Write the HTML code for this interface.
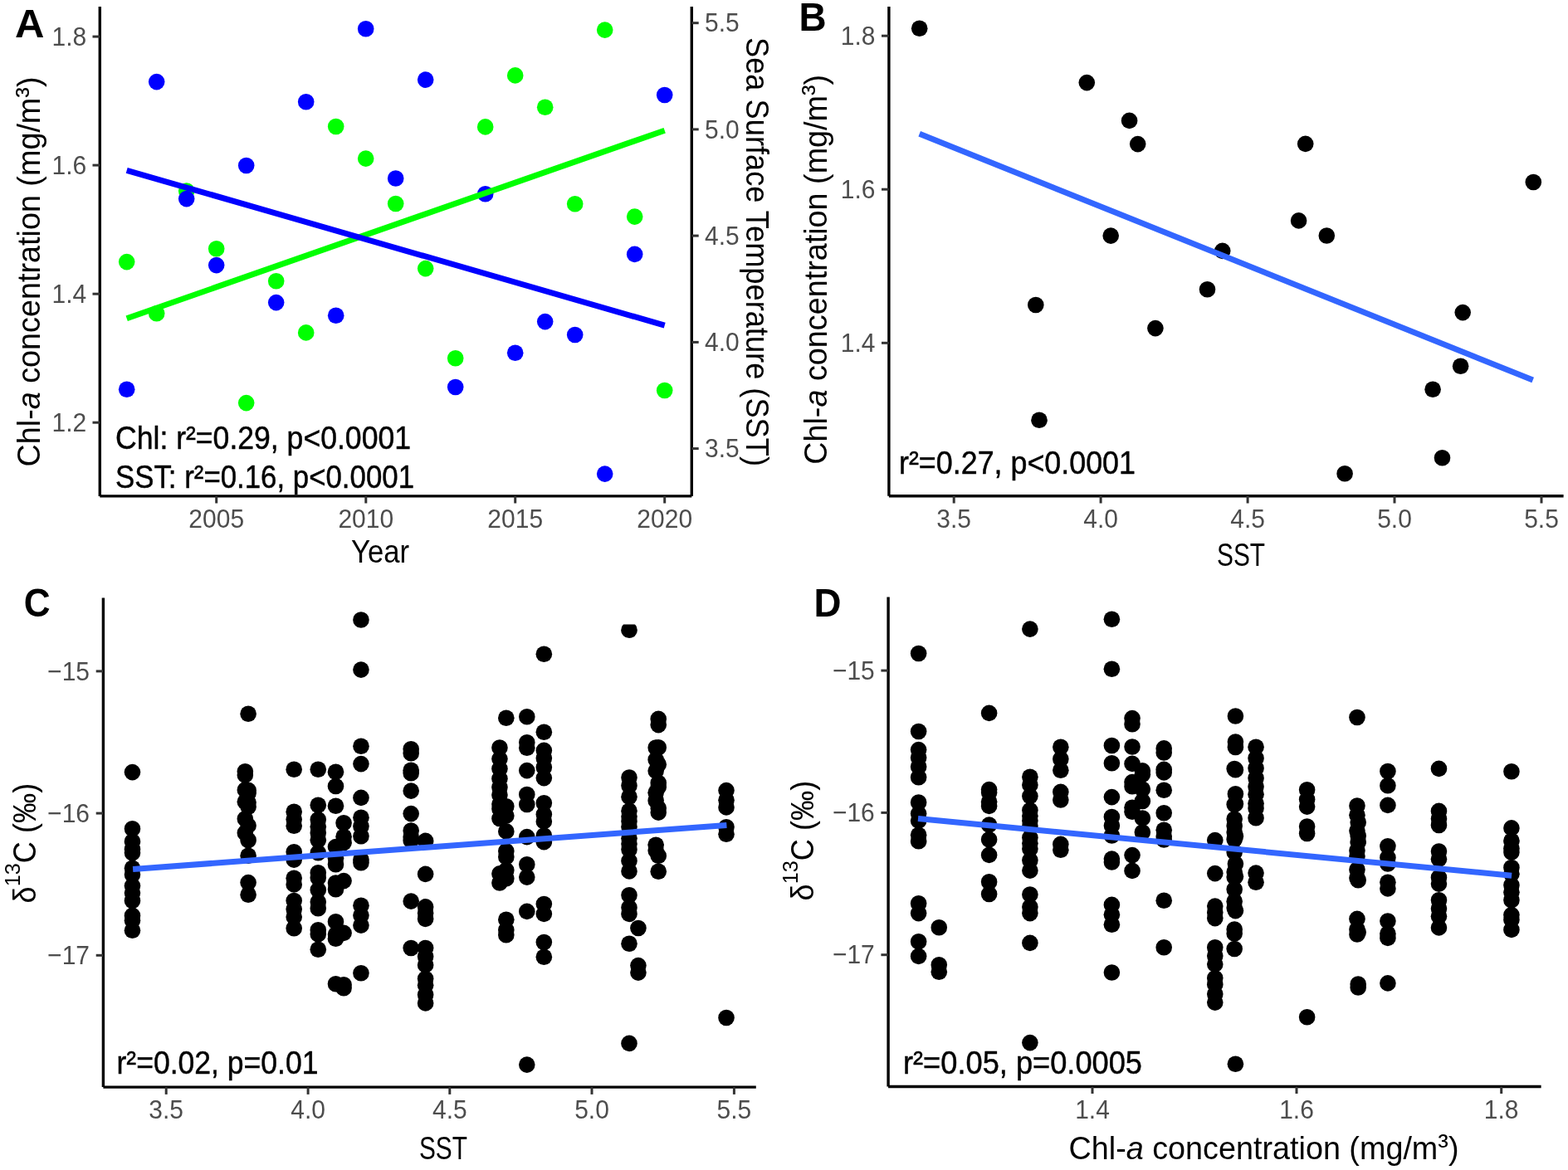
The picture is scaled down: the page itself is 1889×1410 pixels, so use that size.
<!DOCTYPE html>
<html><head><meta charset="utf-8"><title>Figure</title>
<style>html,body{margin:0;padding:0;background:#fff;overflow:hidden;}svg{display:block;}
text{font-family:'Liberation Sans', Arial, Helvetica, sans-serif;}</style></head>
<body><svg width="1889" height="1410" viewBox="0 0 1889 1410">
<rect width="1889" height="1410" fill="#fff"/>
<circle cx="152.70" cy="315.60" r="9.8" fill="#00FF00"/>
<circle cx="188.70" cy="377.80" r="9.8" fill="#00FF00"/>
<circle cx="224.70" cy="230.00" r="9.8" fill="#00FF00"/>
<circle cx="260.70" cy="299.80" r="9.8" fill="#00FF00"/>
<circle cx="296.70" cy="485.60" r="9.8" fill="#00FF00"/>
<circle cx="332.70" cy="338.70" r="9.8" fill="#00FF00"/>
<circle cx="368.70" cy="400.90" r="9.8" fill="#00FF00"/>
<circle cx="404.70" cy="152.50" r="9.8" fill="#00FF00"/>
<circle cx="440.70" cy="191.10" r="9.8" fill="#00FF00"/>
<circle cx="476.70" cy="245.50" r="9.8" fill="#00FF00"/>
<circle cx="512.70" cy="323.60" r="9.8" fill="#00FF00"/>
<circle cx="548.70" cy="431.80" r="9.8" fill="#00FF00"/>
<circle cx="584.70" cy="152.90" r="9.8" fill="#00FF00"/>
<circle cx="620.70" cy="90.90" r="9.8" fill="#00FF00"/>
<circle cx="656.70" cy="129.30" r="9.8" fill="#00FF00"/>
<circle cx="692.70" cy="245.80" r="9.8" fill="#00FF00"/>
<circle cx="728.70" cy="36.10" r="9.8" fill="#00FF00"/>
<circle cx="764.70" cy="261.10" r="9.8" fill="#00FF00"/>
<circle cx="800.70" cy="470.50" r="9.8" fill="#00FF00"/>
<circle cx="152.70" cy="469.20" r="9.8" fill="#0000FF"/>
<circle cx="188.70" cy="98.60" r="9.8" fill="#0000FF"/>
<circle cx="224.70" cy="239.60" r="9.8" fill="#0000FF"/>
<circle cx="260.70" cy="319.60" r="9.8" fill="#0000FF"/>
<circle cx="296.70" cy="199.50" r="9.8" fill="#0000FF"/>
<circle cx="332.70" cy="364.60" r="9.8" fill="#0000FF"/>
<circle cx="368.70" cy="122.70" r="9.8" fill="#0000FF"/>
<circle cx="404.70" cy="380.20" r="9.8" fill="#0000FF"/>
<circle cx="440.70" cy="34.80" r="9.8" fill="#0000FF"/>
<circle cx="476.70" cy="215.00" r="9.8" fill="#0000FF"/>
<circle cx="512.70" cy="96.10" r="9.8" fill="#0000FF"/>
<circle cx="548.70" cy="466.50" r="9.8" fill="#0000FF"/>
<circle cx="584.70" cy="233.70" r="9.8" fill="#0000FF"/>
<circle cx="620.70" cy="425.20" r="9.8" fill="#0000FF"/>
<circle cx="656.70" cy="387.60" r="9.8" fill="#0000FF"/>
<circle cx="692.70" cy="403.50" r="9.8" fill="#0000FF"/>
<circle cx="728.70" cy="571.10" r="9.8" fill="#0000FF"/>
<circle cx="764.70" cy="306.40" r="9.8" fill="#0000FF"/>
<circle cx="800.70" cy="114.50" r="9.8" fill="#0000FF"/>
<line x1="152.70" y1="383.70" x2="800.70" y2="157.20" stroke="#00FF00" stroke-width="7.0" stroke-linecap="butt"/>
<line x1="152.70" y1="205.30" x2="800.70" y2="392.10" stroke="#0000FF" stroke-width="7.0" stroke-linecap="butt"/>
<line x1="120.30" y1="8.10" x2="120.30" y2="597.90" stroke="#000" stroke-width="3.4" stroke-linecap="butt"/>
<line x1="833.30" y1="8.10" x2="833.30" y2="597.90" stroke="#000" stroke-width="3.4" stroke-linecap="butt"/>
<line x1="120.30" y1="597.90" x2="833.30" y2="597.90" stroke="#000" stroke-width="3.4" stroke-linecap="butt"/>
<line x1="111.50" y1="44.10" x2="120.30" y2="44.10" stroke="#333333" stroke-width="3" stroke-linecap="butt"/>
<text transform="translate(104.20 54.70) scale(1.0 1.065)" font-size="30" text-anchor="end" fill="#4D4D4D" font-weight="normal">1.8</text>
<line x1="111.50" y1="199.10" x2="120.30" y2="199.10" stroke="#333333" stroke-width="3" stroke-linecap="butt"/>
<text transform="translate(104.20 209.70) scale(1.0 1.065)" font-size="30" text-anchor="end" fill="#4D4D4D" font-weight="normal">1.6</text>
<line x1="111.50" y1="354.20" x2="120.30" y2="354.20" stroke="#333333" stroke-width="3" stroke-linecap="butt"/>
<text transform="translate(104.20 364.80) scale(1.0 1.065)" font-size="30" text-anchor="end" fill="#4D4D4D" font-weight="normal">1.4</text>
<line x1="111.50" y1="509.20" x2="120.30" y2="509.20" stroke="#333333" stroke-width="3" stroke-linecap="butt"/>
<text transform="translate(104.20 519.80) scale(1.0 1.065)" font-size="30" text-anchor="end" fill="#4D4D4D" font-weight="normal">1.2</text>
<line x1="833.30" y1="27.70" x2="841.70" y2="27.70" stroke="#333333" stroke-width="3" stroke-linecap="butt"/>
<text transform="translate(849.00 38.30) scale(1.0 1.065)" font-size="30" text-anchor="start" fill="#4D4D4D" font-weight="normal">5.5</text>
<line x1="833.30" y1="155.90" x2="841.70" y2="155.90" stroke="#333333" stroke-width="3" stroke-linecap="butt"/>
<text transform="translate(849.00 166.50) scale(1.0 1.065)" font-size="30" text-anchor="start" fill="#4D4D4D" font-weight="normal">5.0</text>
<line x1="833.30" y1="284.10" x2="841.70" y2="284.10" stroke="#333333" stroke-width="3" stroke-linecap="butt"/>
<text transform="translate(849.00 294.70) scale(1.0 1.065)" font-size="30" text-anchor="start" fill="#4D4D4D" font-weight="normal">4.5</text>
<line x1="833.30" y1="412.40" x2="841.70" y2="412.40" stroke="#333333" stroke-width="3" stroke-linecap="butt"/>
<text transform="translate(849.00 423.00) scale(1.0 1.065)" font-size="30" text-anchor="start" fill="#4D4D4D" font-weight="normal">4.0</text>
<line x1="833.30" y1="540.60" x2="841.70" y2="540.60" stroke="#333333" stroke-width="3" stroke-linecap="butt"/>
<text transform="translate(849.00 551.20) scale(1.0 1.065)" font-size="30" text-anchor="start" fill="#4D4D4D" font-weight="normal">3.5</text>
<line x1="260.70" y1="597.90" x2="260.70" y2="606.50" stroke="#333333" stroke-width="3" stroke-linecap="butt"/>
<text transform="translate(260.70 635.90) scale(1.0 1.065)" font-size="30" text-anchor="middle" fill="#4D4D4D" font-weight="normal">2005</text>
<line x1="440.80" y1="597.90" x2="440.80" y2="606.50" stroke="#333333" stroke-width="3" stroke-linecap="butt"/>
<text transform="translate(440.80 635.90) scale(1.0 1.065)" font-size="30" text-anchor="middle" fill="#4D4D4D" font-weight="normal">2010</text>
<line x1="620.70" y1="597.90" x2="620.70" y2="606.50" stroke="#333333" stroke-width="3" stroke-linecap="butt"/>
<text transform="translate(620.70 635.90) scale(1.0 1.065)" font-size="30" text-anchor="middle" fill="#4D4D4D" font-weight="normal">2015</text>
<line x1="800.70" y1="597.90" x2="800.70" y2="606.50" stroke="#333333" stroke-width="3" stroke-linecap="butt"/>
<text transform="translate(800.70 635.90) scale(1.0 1.065)" font-size="30" text-anchor="middle" fill="#4D4D4D" font-weight="normal">2020</text>
<text transform="translate(458.00 677.70)" font-size="38" text-anchor="middle" fill="#000" font-weight="normal" textLength="70.0" lengthAdjust="spacingAndGlyphs">Year</text>
<text transform="translate(48.40 562.50) rotate(-90)" font-size="38.5" text-anchor="start" fill="#000" font-weight="normal" textLength="470.0" lengthAdjust="spacingAndGlyphs">Chl-<tspan font-style="italic">a</tspan> concentration (mg/m<tspan dy="-3.8">³</tspan><tspan dy="3.8">)</tspan></text>
<text transform="translate(899.00 45.00) rotate(90)" font-size="38.5" text-anchor="start" fill="#000" font-weight="normal" textLength="517.0" lengthAdjust="spacingAndGlyphs">Sea Surface Temperature (SST)</text>
<text transform="translate(18.00 44.70)" font-size="49" text-anchor="start" fill="#000" font-weight="bold">A</text>
<text transform="translate(139.00 541.30)" font-size="38" text-anchor="start" fill="#000" font-weight="normal" textLength="356.0" lengthAdjust="spacingAndGlyphs" stroke="#000" stroke-width="0.45">Chl: r²=0.29, p&lt;0.0001</text>
<text transform="translate(139.00 588.40)" font-size="38" text-anchor="start" fill="#000" font-weight="normal" textLength="360.0" lengthAdjust="spacingAndGlyphs" stroke="#000" stroke-width="0.45">SST: r²=0.16, p&lt;0.0001</text>
<circle cx="1107.70" cy="34.30" r="9.8" fill="#000"/>
<circle cx="1309.30" cy="99.60" r="9.8" fill="#000"/>
<circle cx="1360.60" cy="145.40" r="9.8" fill="#000"/>
<circle cx="1370.70" cy="173.60" r="9.8" fill="#000"/>
<circle cx="1572.70" cy="173.40" r="9.8" fill="#000"/>
<circle cx="1847.30" cy="219.50" r="9.8" fill="#000"/>
<circle cx="1564.60" cy="265.90" r="9.8" fill="#000"/>
<circle cx="1598.30" cy="284.00" r="9.8" fill="#000"/>
<circle cx="1338.20" cy="284.10" r="9.8" fill="#000"/>
<circle cx="1472.70" cy="302.40" r="9.8" fill="#000"/>
<circle cx="1454.50" cy="348.80" r="9.8" fill="#000"/>
<circle cx="1247.80" cy="367.50" r="9.8" fill="#000"/>
<circle cx="1391.90" cy="395.60" r="9.8" fill="#000"/>
<circle cx="1762.20" cy="376.60" r="9.8" fill="#000"/>
<circle cx="1759.60" cy="441.20" r="9.8" fill="#000"/>
<circle cx="1726.10" cy="469.30" r="9.8" fill="#000"/>
<circle cx="1252.00" cy="506.20" r="9.8" fill="#000"/>
<circle cx="1737.50" cy="551.80" r="9.8" fill="#000"/>
<circle cx="1620.10" cy="570.80" r="9.8" fill="#000"/>
<line x1="1107.70" y1="161.20" x2="1846.70" y2="458.10" stroke="#3366FF" stroke-width="7.0" stroke-linecap="butt"/>
<line x1="1070.90" y1="8.10" x2="1070.90" y2="597.70" stroke="#000" stroke-width="3.4" stroke-linecap="butt"/>
<line x1="1070.90" y1="597.70" x2="1883.60" y2="597.70" stroke="#000" stroke-width="3.4" stroke-linecap="butt"/>
<line x1="1062.00" y1="43.20" x2="1070.90" y2="43.20" stroke="#333333" stroke-width="3" stroke-linecap="butt"/>
<text transform="translate(1054.40 53.80) scale(1.0 1.065)" font-size="30" text-anchor="end" fill="#4D4D4D" font-weight="normal">1.8</text>
<line x1="1062.00" y1="228.20" x2="1070.90" y2="228.20" stroke="#333333" stroke-width="3" stroke-linecap="butt"/>
<text transform="translate(1054.40 238.80) scale(1.0 1.065)" font-size="30" text-anchor="end" fill="#4D4D4D" font-weight="normal">1.6</text>
<line x1="1062.00" y1="413.30" x2="1070.90" y2="413.30" stroke="#333333" stroke-width="3" stroke-linecap="butt"/>
<text transform="translate(1054.40 423.90) scale(1.0 1.065)" font-size="30" text-anchor="end" fill="#4D4D4D" font-weight="normal">1.4</text>
<line x1="1149.20" y1="597.70" x2="1149.20" y2="606.50" stroke="#333333" stroke-width="3" stroke-linecap="butt"/>
<text transform="translate(1149.20 636.10) scale(1.0 1.065)" font-size="30" text-anchor="middle" fill="#4D4D4D" font-weight="normal">3.5</text>
<line x1="1326.10" y1="597.70" x2="1326.10" y2="606.50" stroke="#333333" stroke-width="3" stroke-linecap="butt"/>
<text transform="translate(1326.10 636.10) scale(1.0 1.065)" font-size="30" text-anchor="middle" fill="#4D4D4D" font-weight="normal">4.0</text>
<line x1="1503.10" y1="597.70" x2="1503.10" y2="606.50" stroke="#333333" stroke-width="3" stroke-linecap="butt"/>
<text transform="translate(1503.10 636.10) scale(1.0 1.065)" font-size="30" text-anchor="middle" fill="#4D4D4D" font-weight="normal">4.5</text>
<line x1="1680.00" y1="597.70" x2="1680.00" y2="606.50" stroke="#333333" stroke-width="3" stroke-linecap="butt"/>
<text transform="translate(1680.00 636.10) scale(1.0 1.065)" font-size="30" text-anchor="middle" fill="#4D4D4D" font-weight="normal">5.0</text>
<line x1="1857.00" y1="597.70" x2="1857.00" y2="606.50" stroke="#333333" stroke-width="3" stroke-linecap="butt"/>
<text transform="translate(1857.00 636.10) scale(1.0 1.065)" font-size="30" text-anchor="middle" fill="#4D4D4D" font-weight="normal">5.5</text>
<text transform="translate(1495.00 681.50)" font-size="38" text-anchor="middle" fill="#000" font-weight="normal" textLength="58.0" lengthAdjust="spacingAndGlyphs">SST</text>
<text transform="translate(995.50 559.80) rotate(-90)" font-size="38.5" text-anchor="start" fill="#000" font-weight="normal" textLength="470.0" lengthAdjust="spacingAndGlyphs">Chl-<tspan font-style="italic">a</tspan> concentration (mg/m<tspan dy="-3.8">³</tspan><tspan dy="3.8">)</tspan></text>
<text transform="translate(962.50 37.40) scale(0.935 1.0)" font-size="49" text-anchor="start" fill="#000" font-weight="bold">B</text>
<text transform="translate(1083.00 570.90)" font-size="38" text-anchor="start" fill="#000" font-weight="normal" textLength="285.0" lengthAdjust="spacingAndGlyphs" stroke="#000" stroke-width="0.45">r²=0.27, p&lt;0.0001</text>
<defs><clipPath id="cclip"><rect x="0" y="752.4" width="1889" height="700"/></clipPath></defs>
<circle cx="295.33" cy="929.70" r="9.8" fill="#000"/>
<circle cx="295.33" cy="934.00" r="9.8" fill="#000"/>
<circle cx="295.33" cy="951.90" r="9.8" fill="#000"/>
<circle cx="295.33" cy="966.30" r="9.8" fill="#000"/>
<circle cx="295.33" cy="986.80" r="9.8" fill="#000"/>
<circle cx="295.33" cy="1003.80" r="9.8" fill="#000"/>
<circle cx="790.15" cy="901.00" r="9.8" fill="#000"/>
<circle cx="790.15" cy="915.50" r="9.8" fill="#000"/>
<circle cx="790.15" cy="929.10" r="9.8" fill="#000"/>
<circle cx="790.15" cy="955.20" r="9.8" fill="#000"/>
<circle cx="790.15" cy="964.80" r="9.8" fill="#000"/>
<circle cx="790.15" cy="1018.20" r="9.8" fill="#000"/>
<circle cx="790.15" cy="1025.00" r="9.8" fill="#000"/>
<circle cx="601.94" cy="901.00" r="9.8" fill="#000"/>
<circle cx="601.94" cy="914.60" r="9.8" fill="#000"/>
<circle cx="601.94" cy="926.50" r="9.8" fill="#000"/>
<circle cx="601.94" cy="938.50" r="9.8" fill="#000"/>
<circle cx="601.94" cy="948.70" r="9.8" fill="#000"/>
<circle cx="601.94" cy="958.00" r="9.8" fill="#000"/>
<circle cx="601.94" cy="969.10" r="9.8" fill="#000"/>
<circle cx="601.94" cy="974.80" r="9.8" fill="#000"/>
<circle cx="601.94" cy="986.50" r="9.8" fill="#000"/>
<circle cx="601.94" cy="1052.90" r="9.8" fill="#000"/>
<circle cx="601.94" cy="1064.00" r="9.8" fill="#000"/>
<circle cx="495.18" cy="902.70" r="9.8" fill="#000"/>
<circle cx="495.18" cy="907.80" r="9.8" fill="#000"/>
<circle cx="495.18" cy="928.20" r="9.8" fill="#000"/>
<circle cx="495.18" cy="931.70" r="9.8" fill="#000"/>
<circle cx="495.18" cy="953.10" r="9.8" fill="#000"/>
<circle cx="495.18" cy="980.60" r="9.8" fill="#000"/>
<circle cx="495.18" cy="1001.00" r="9.8" fill="#000"/>
<circle cx="495.18" cy="1008.70" r="9.8" fill="#000"/>
<circle cx="495.18" cy="1012.80" r="9.8" fill="#000"/>
<circle cx="495.18" cy="1086.10" r="9.8" fill="#000"/>
<circle cx="495.18" cy="1142.50" r="9.8" fill="#000"/>
<circle cx="655.33" cy="788.30" r="9.8" fill="#000"/>
<circle cx="655.33" cy="882.30" r="9.8" fill="#000"/>
<circle cx="655.33" cy="904.40" r="9.8" fill="#000"/>
<circle cx="655.33" cy="913.80" r="9.8" fill="#000"/>
<circle cx="655.33" cy="924.80" r="9.8" fill="#000"/>
<circle cx="655.33" cy="937.60" r="9.8" fill="#000"/>
<circle cx="655.33" cy="967.80" r="9.8" fill="#000"/>
<circle cx="655.33" cy="981.40" r="9.8" fill="#000"/>
<circle cx="655.33" cy="989.90" r="9.8" fill="#000"/>
<circle cx="655.33" cy="1007.00" r="9.8" fill="#000"/>
<circle cx="655.33" cy="1014.60" r="9.8" fill="#000"/>
<circle cx="655.33" cy="1089.50" r="9.8" fill="#000"/>
<circle cx="655.33" cy="1101.40" r="9.8" fill="#000"/>
<circle cx="655.33" cy="1135.50" r="9.8" fill="#000"/>
<circle cx="655.33" cy="1153.20" r="9.8" fill="#000"/>
<circle cx="434.95" cy="747.00" r="9.8" fill="#000"/>
<circle cx="434.95" cy="807.10" r="9.8" fill="#000"/>
<circle cx="434.95" cy="899.30" r="9.8" fill="#000"/>
<circle cx="434.95" cy="920.60" r="9.8" fill="#000"/>
<circle cx="434.95" cy="961.40" r="9.8" fill="#000"/>
<circle cx="434.95" cy="985.30" r="9.8" fill="#000"/>
<circle cx="434.95" cy="995.80" r="9.8" fill="#000"/>
<circle cx="434.95" cy="1007.80" r="9.8" fill="#000"/>
<circle cx="434.95" cy="1035.90" r="9.8" fill="#000"/>
<circle cx="434.95" cy="1039.80" r="9.8" fill="#000"/>
<circle cx="434.95" cy="1091.20" r="9.8" fill="#000"/>
<circle cx="434.95" cy="1103.10" r="9.8" fill="#000"/>
<circle cx="434.95" cy="1115.10" r="9.8" fill="#000"/>
<circle cx="434.95" cy="1172.80" r="9.8" fill="#000"/>
<circle cx="757.99" cy="759.20" r="9.8" fill="#000" clip-path="url(#cclip)"/>
<circle cx="757.99" cy="937.00" r="9.8" fill="#000"/>
<circle cx="757.99" cy="946.70" r="9.8" fill="#000"/>
<circle cx="757.99" cy="960.30" r="9.8" fill="#000"/>
<circle cx="757.99" cy="977.30" r="9.8" fill="#000"/>
<circle cx="757.99" cy="984.10" r="9.8" fill="#000"/>
<circle cx="757.99" cy="989.80" r="9.8" fill="#000"/>
<circle cx="757.99" cy="996.60" r="9.8" fill="#000"/>
<circle cx="757.99" cy="1010.20" r="9.8" fill="#000"/>
<circle cx="757.99" cy="1017.00" r="9.8" fill="#000"/>
<circle cx="757.99" cy="1023.80" r="9.8" fill="#000"/>
<circle cx="757.99" cy="1037.50" r="9.8" fill="#000"/>
<circle cx="757.99" cy="1049.90" r="9.8" fill="#000"/>
<circle cx="757.99" cy="1078.80" r="9.8" fill="#000"/>
<circle cx="757.99" cy="1093.80" r="9.8" fill="#000"/>
<circle cx="757.99" cy="1101.40" r="9.8" fill="#000"/>
<circle cx="757.99" cy="1137.20" r="9.8" fill="#000"/>
<circle cx="757.99" cy="1257.40" r="9.8" fill="#000"/>
<circle cx="414.07" cy="991.80" r="9.8" fill="#000"/>
<circle cx="414.07" cy="1008.30" r="9.8" fill="#000"/>
<circle cx="414.07" cy="1015.50" r="9.8" fill="#000"/>
<circle cx="414.07" cy="1061.60" r="9.8" fill="#000"/>
<circle cx="414.07" cy="1124.40" r="9.8" fill="#000"/>
<circle cx="414.07" cy="1186.80" r="9.8" fill="#000"/>
<circle cx="414.07" cy="1190.80" r="9.8" fill="#000"/>
<circle cx="875.02" cy="952.60" r="9.8" fill="#000"/>
<circle cx="875.02" cy="964.20" r="9.8" fill="#000"/>
<circle cx="875.02" cy="972.90" r="9.8" fill="#000"/>
<circle cx="875.02" cy="996.80" r="9.8" fill="#000"/>
<circle cx="875.02" cy="1005.30" r="9.8" fill="#000"/>
<circle cx="875.02" cy="1226.50" r="9.8" fill="#000"/>
<circle cx="634.79" cy="863.80" r="9.8" fill="#000"/>
<circle cx="634.79" cy="894.80" r="9.8" fill="#000"/>
<circle cx="634.79" cy="901.30" r="9.8" fill="#000"/>
<circle cx="634.79" cy="928.60" r="9.8" fill="#000"/>
<circle cx="634.79" cy="957.50" r="9.8" fill="#000"/>
<circle cx="634.79" cy="969.50" r="9.8" fill="#000"/>
<circle cx="634.79" cy="1008.60" r="9.8" fill="#000"/>
<circle cx="634.79" cy="1041.80" r="9.8" fill="#000"/>
<circle cx="634.79" cy="1057.10" r="9.8" fill="#000"/>
<circle cx="634.79" cy="1098.40" r="9.8" fill="#000"/>
<circle cx="634.79" cy="1283.10" r="9.8" fill="#000"/>
<circle cx="793.23" cy="866.40" r="9.8" fill="#000"/>
<circle cx="793.23" cy="873.60" r="9.8" fill="#000"/>
<circle cx="793.23" cy="900.80" r="9.8" fill="#000"/>
<circle cx="793.23" cy="921.20" r="9.8" fill="#000"/>
<circle cx="793.23" cy="943.40" r="9.8" fill="#000"/>
<circle cx="793.23" cy="948.50" r="9.8" fill="#000"/>
<circle cx="793.23" cy="974.00" r="9.8" fill="#000"/>
<circle cx="793.23" cy="979.10" r="9.8" fill="#000"/>
<circle cx="793.23" cy="1031.40" r="9.8" fill="#000"/>
<circle cx="793.23" cy="1050.20" r="9.8" fill="#000"/>
<circle cx="299.10" cy="860.20" r="9.8" fill="#000"/>
<circle cx="299.10" cy="952.40" r="9.8" fill="#000"/>
<circle cx="299.10" cy="955.80" r="9.8" fill="#000"/>
<circle cx="299.10" cy="967.10" r="9.8" fill="#000"/>
<circle cx="299.10" cy="972.20" r="9.8" fill="#000"/>
<circle cx="299.10" cy="994.90" r="9.8" fill="#000"/>
<circle cx="299.10" cy="1012.50" r="9.8" fill="#000"/>
<circle cx="299.10" cy="1031.20" r="9.8" fill="#000"/>
<circle cx="299.10" cy="1063.60" r="9.8" fill="#000"/>
<circle cx="299.10" cy="1078.30" r="9.8" fill="#000"/>
<circle cx="609.81" cy="865.30" r="9.8" fill="#000"/>
<circle cx="609.81" cy="971.80" r="9.8" fill="#000"/>
<circle cx="609.81" cy="983.10" r="9.8" fill="#000"/>
<circle cx="609.81" cy="1001.90" r="9.8" fill="#000"/>
<circle cx="609.81" cy="1025.70" r="9.8" fill="#000"/>
<circle cx="609.81" cy="1032.80" r="9.8" fill="#000"/>
<circle cx="609.81" cy="1048.70" r="9.8" fill="#000"/>
<circle cx="609.81" cy="1058.80" r="9.8" fill="#000"/>
<circle cx="609.81" cy="1108.20" r="9.8" fill="#000"/>
<circle cx="609.81" cy="1120.80" r="9.8" fill="#000"/>
<circle cx="609.81" cy="1126.80" r="9.8" fill="#000"/>
<circle cx="354.19" cy="927.20" r="9.8" fill="#000"/>
<circle cx="354.19" cy="978.20" r="9.8" fill="#000"/>
<circle cx="354.19" cy="987.60" r="9.8" fill="#000"/>
<circle cx="354.19" cy="995.30" r="9.8" fill="#000"/>
<circle cx="354.19" cy="1026.80" r="9.8" fill="#000"/>
<circle cx="354.19" cy="1036.10" r="9.8" fill="#000"/>
<circle cx="354.19" cy="1058.20" r="9.8" fill="#000"/>
<circle cx="354.19" cy="1065.90" r="9.8" fill="#000"/>
<circle cx="354.19" cy="1085.50" r="9.8" fill="#000"/>
<circle cx="354.19" cy="1095.70" r="9.8" fill="#000"/>
<circle cx="354.19" cy="1105.10" r="9.8" fill="#000"/>
<circle cx="354.19" cy="1118.70" r="9.8" fill="#000"/>
<circle cx="404.49" cy="930.30" r="9.8" fill="#000"/>
<circle cx="404.49" cy="947.50" r="9.8" fill="#000"/>
<circle cx="404.49" cy="971.20" r="9.8" fill="#000"/>
<circle cx="404.49" cy="1020.60" r="9.8" fill="#000"/>
<circle cx="404.49" cy="1034.20" r="9.8" fill="#000"/>
<circle cx="404.49" cy="1041.80" r="9.8" fill="#000"/>
<circle cx="404.49" cy="1064.00" r="9.8" fill="#000"/>
<circle cx="404.49" cy="1071.70" r="9.8" fill="#000"/>
<circle cx="404.49" cy="1110.80" r="9.8" fill="#000"/>
<circle cx="404.49" cy="1126.10" r="9.8" fill="#000"/>
<circle cx="404.49" cy="1131.20" r="9.8" fill="#000"/>
<circle cx="404.49" cy="1185.70" r="9.8" fill="#000"/>
<circle cx="383.28" cy="927.30" r="9.8" fill="#000"/>
<circle cx="383.28" cy="970.30" r="9.8" fill="#000"/>
<circle cx="383.28" cy="987.80" r="9.8" fill="#000"/>
<circle cx="383.28" cy="996.30" r="9.8" fill="#000"/>
<circle cx="383.28" cy="1003.80" r="9.8" fill="#000"/>
<circle cx="383.28" cy="1012.30" r="9.8" fill="#000"/>
<circle cx="383.28" cy="1027.80" r="9.8" fill="#000"/>
<circle cx="383.28" cy="1051.80" r="9.8" fill="#000"/>
<circle cx="383.28" cy="1057.80" r="9.8" fill="#000"/>
<circle cx="383.28" cy="1072.50" r="9.8" fill="#000"/>
<circle cx="383.28" cy="1087.00" r="9.8" fill="#000"/>
<circle cx="383.28" cy="1094.80" r="9.8" fill="#000"/>
<circle cx="383.28" cy="1120.80" r="9.8" fill="#000"/>
<circle cx="383.28" cy="1125.80" r="9.8" fill="#000"/>
<circle cx="383.28" cy="1144.30" r="9.8" fill="#000"/>
<circle cx="159.48" cy="930.60" r="9.8" fill="#000"/>
<circle cx="159.48" cy="998.70" r="9.8" fill="#000"/>
<circle cx="159.48" cy="1014.00" r="9.8" fill="#000"/>
<circle cx="159.48" cy="1023.40" r="9.8" fill="#000"/>
<circle cx="159.48" cy="1027.80" r="9.8" fill="#000"/>
<circle cx="159.48" cy="1046.30" r="9.8" fill="#000"/>
<circle cx="159.48" cy="1054.00" r="9.8" fill="#000"/>
<circle cx="159.48" cy="1067.60" r="9.8" fill="#000"/>
<circle cx="159.48" cy="1076.10" r="9.8" fill="#000"/>
<circle cx="159.48" cy="1085.50" r="9.8" fill="#000"/>
<circle cx="159.48" cy="1103.40" r="9.8" fill="#000"/>
<circle cx="159.48" cy="1109.30" r="9.8" fill="#000"/>
<circle cx="159.48" cy="1121.20" r="9.8" fill="#000"/>
<circle cx="512.63" cy="1013.40" r="9.8" fill="#000"/>
<circle cx="512.63" cy="1053.40" r="9.8" fill="#000"/>
<circle cx="512.63" cy="1092.90" r="9.8" fill="#000"/>
<circle cx="512.63" cy="1100.60" r="9.8" fill="#000"/>
<circle cx="512.63" cy="1107.40" r="9.8" fill="#000"/>
<circle cx="512.63" cy="1142.50" r="9.8" fill="#000"/>
<circle cx="512.63" cy="1152.70" r="9.8" fill="#000"/>
<circle cx="512.63" cy="1162.90" r="9.8" fill="#000"/>
<circle cx="512.63" cy="1179.50" r="9.8" fill="#000"/>
<circle cx="512.63" cy="1187.20" r="9.8" fill="#000"/>
<circle cx="512.63" cy="1198.70" r="9.8" fill="#000"/>
<circle cx="512.63" cy="1208.90" r="9.8" fill="#000"/>
<circle cx="768.94" cy="1118.50" r="9.8" fill="#000"/>
<circle cx="768.94" cy="1163.60" r="9.8" fill="#000"/>
<circle cx="768.94" cy="1172.10" r="9.8" fill="#000"/>
<line x1="160.10" y1="1047.50" x2="875.40" y2="994.40" stroke="#3366FF" stroke-width="7.0" stroke-linecap="butt"/>
<line x1="124.40" y1="720.40" x2="124.40" y2="1310.10" stroke="#000" stroke-width="3.4" stroke-linecap="butt"/>
<line x1="124.40" y1="1310.10" x2="910.80" y2="1310.10" stroke="#000" stroke-width="3.4" stroke-linecap="butt"/>
<line x1="115.70" y1="808.90" x2="124.40" y2="808.90" stroke="#333333" stroke-width="3" stroke-linecap="butt"/>
<text transform="translate(108.00 819.50) scale(1.0 1.065)" font-size="30" text-anchor="end" fill="#4D4D4D" font-weight="normal">−15</text>
<line x1="115.70" y1="980.10" x2="124.40" y2="980.10" stroke="#333333" stroke-width="3" stroke-linecap="butt"/>
<text transform="translate(108.00 990.70) scale(1.0 1.065)" font-size="30" text-anchor="end" fill="#4D4D4D" font-weight="normal">−16</text>
<line x1="115.70" y1="1151.30" x2="124.40" y2="1151.30" stroke="#333333" stroke-width="3" stroke-linecap="butt"/>
<text transform="translate(108.00 1161.90) scale(1.0 1.065)" font-size="30" text-anchor="end" fill="#4D4D4D" font-weight="normal">−17</text>
<line x1="200.20" y1="1310.10" x2="200.20" y2="1318.90" stroke="#333333" stroke-width="3" stroke-linecap="butt"/>
<text transform="translate(200.20 1348.00) scale(1.0 1.065)" font-size="30" text-anchor="middle" fill="#4D4D4D" font-weight="normal">3.5</text>
<line x1="371.10" y1="1310.10" x2="371.10" y2="1318.90" stroke="#333333" stroke-width="3" stroke-linecap="butt"/>
<text transform="translate(371.10 1348.00) scale(1.0 1.065)" font-size="30" text-anchor="middle" fill="#4D4D4D" font-weight="normal">4.0</text>
<line x1="541.80" y1="1310.10" x2="541.80" y2="1318.90" stroke="#333333" stroke-width="3" stroke-linecap="butt"/>
<text transform="translate(541.80 1348.00) scale(1.0 1.065)" font-size="30" text-anchor="middle" fill="#4D4D4D" font-weight="normal">4.5</text>
<line x1="713.00" y1="1310.10" x2="713.00" y2="1318.90" stroke="#333333" stroke-width="3" stroke-linecap="butt"/>
<text transform="translate(713.00 1348.00) scale(1.0 1.065)" font-size="30" text-anchor="middle" fill="#4D4D4D" font-weight="normal">5.0</text>
<line x1="884.40" y1="1310.10" x2="884.40" y2="1318.90" stroke="#333333" stroke-width="3" stroke-linecap="butt"/>
<text transform="translate(884.40 1348.00) scale(1.0 1.065)" font-size="30" text-anchor="middle" fill="#4D4D4D" font-weight="normal">5.5</text>
<text transform="translate(533.90 1396.50)" font-size="38" text-anchor="middle" fill="#000" font-weight="normal" textLength="58.0" lengthAdjust="spacingAndGlyphs">SST</text>
<text transform="translate(42.80 1088.50) rotate(-90) scale(0.953 1.0)" font-size="38" text-anchor="start" fill="#000" font-weight="normal">δ<tspan font-size="26.5" dy="-18.7">13</tspan><tspan dy="18.7">C (‰)</tspan></text>
<text transform="translate(28.70 743.00) scale(0.9 1.0)" font-size="49" text-anchor="start" fill="#000" font-weight="bold">C</text>
<text transform="translate(140.50 1294.00)" font-size="38" text-anchor="start" fill="#000" font-weight="normal" textLength="243.0" lengthAdjust="spacingAndGlyphs" stroke="#000" stroke-width="0.45">r²=0.02, p=0.01</text>
<circle cx="1376.34" cy="928.90" r="9.8" fill="#000"/>
<circle cx="1376.34" cy="933.20" r="9.8" fill="#000"/>
<circle cx="1376.34" cy="951.10" r="9.8" fill="#000"/>
<circle cx="1376.34" cy="965.50" r="9.8" fill="#000"/>
<circle cx="1376.34" cy="986.00" r="9.8" fill="#000"/>
<circle cx="1376.34" cy="1003.00" r="9.8" fill="#000"/>
<circle cx="1277.82" cy="900.20" r="9.8" fill="#000"/>
<circle cx="1277.82" cy="914.70" r="9.8" fill="#000"/>
<circle cx="1277.82" cy="928.30" r="9.8" fill="#000"/>
<circle cx="1277.82" cy="954.40" r="9.8" fill="#000"/>
<circle cx="1277.82" cy="964.00" r="9.8" fill="#000"/>
<circle cx="1277.82" cy="1017.40" r="9.8" fill="#000"/>
<circle cx="1277.82" cy="1024.20" r="9.8" fill="#000"/>
<circle cx="1513.04" cy="900.20" r="9.8" fill="#000"/>
<circle cx="1513.04" cy="913.80" r="9.8" fill="#000"/>
<circle cx="1513.04" cy="925.70" r="9.8" fill="#000"/>
<circle cx="1513.04" cy="937.70" r="9.8" fill="#000"/>
<circle cx="1513.04" cy="947.90" r="9.8" fill="#000"/>
<circle cx="1513.04" cy="957.20" r="9.8" fill="#000"/>
<circle cx="1513.04" cy="968.30" r="9.8" fill="#000"/>
<circle cx="1513.04" cy="974.00" r="9.8" fill="#000"/>
<circle cx="1513.04" cy="985.70" r="9.8" fill="#000"/>
<circle cx="1513.04" cy="1052.10" r="9.8" fill="#000"/>
<circle cx="1513.04" cy="1063.20" r="9.8" fill="#000"/>
<circle cx="1402.21" cy="901.90" r="9.8" fill="#000"/>
<circle cx="1402.21" cy="907.00" r="9.8" fill="#000"/>
<circle cx="1402.21" cy="927.40" r="9.8" fill="#000"/>
<circle cx="1402.21" cy="930.90" r="9.8" fill="#000"/>
<circle cx="1402.21" cy="952.30" r="9.8" fill="#000"/>
<circle cx="1402.21" cy="979.80" r="9.8" fill="#000"/>
<circle cx="1402.21" cy="1000.20" r="9.8" fill="#000"/>
<circle cx="1402.21" cy="1007.90" r="9.8" fill="#000"/>
<circle cx="1402.21" cy="1012.00" r="9.8" fill="#000"/>
<circle cx="1402.21" cy="1085.30" r="9.8" fill="#000"/>
<circle cx="1402.21" cy="1141.70" r="9.8" fill="#000"/>
<circle cx="1106.64" cy="787.50" r="9.8" fill="#000"/>
<circle cx="1106.64" cy="881.50" r="9.8" fill="#000"/>
<circle cx="1106.64" cy="903.60" r="9.8" fill="#000"/>
<circle cx="1106.64" cy="913.00" r="9.8" fill="#000"/>
<circle cx="1106.64" cy="924.00" r="9.8" fill="#000"/>
<circle cx="1106.64" cy="936.80" r="9.8" fill="#000"/>
<circle cx="1106.64" cy="967.00" r="9.8" fill="#000"/>
<circle cx="1106.64" cy="980.60" r="9.8" fill="#000"/>
<circle cx="1106.64" cy="989.10" r="9.8" fill="#000"/>
<circle cx="1106.64" cy="1006.20" r="9.8" fill="#000"/>
<circle cx="1106.64" cy="1013.80" r="9.8" fill="#000"/>
<circle cx="1106.64" cy="1088.70" r="9.8" fill="#000"/>
<circle cx="1106.64" cy="1100.60" r="9.8" fill="#000"/>
<circle cx="1106.64" cy="1134.70" r="9.8" fill="#000"/>
<circle cx="1106.64" cy="1152.40" r="9.8" fill="#000"/>
<circle cx="1339.40" cy="746.20" r="9.8" fill="#000"/>
<circle cx="1339.40" cy="806.30" r="9.8" fill="#000"/>
<circle cx="1339.40" cy="898.50" r="9.8" fill="#000"/>
<circle cx="1339.40" cy="919.80" r="9.8" fill="#000"/>
<circle cx="1339.40" cy="960.60" r="9.8" fill="#000"/>
<circle cx="1339.40" cy="984.50" r="9.8" fill="#000"/>
<circle cx="1339.40" cy="995.00" r="9.8" fill="#000"/>
<circle cx="1339.40" cy="1007.00" r="9.8" fill="#000"/>
<circle cx="1339.40" cy="1035.10" r="9.8" fill="#000"/>
<circle cx="1339.40" cy="1039.00" r="9.8" fill="#000"/>
<circle cx="1339.40" cy="1090.40" r="9.8" fill="#000"/>
<circle cx="1339.40" cy="1102.30" r="9.8" fill="#000"/>
<circle cx="1339.40" cy="1114.30" r="9.8" fill="#000"/>
<circle cx="1339.40" cy="1172.00" r="9.8" fill="#000"/>
<circle cx="1240.88" cy="758.10" r="9.8" fill="#000"/>
<circle cx="1240.88" cy="936.20" r="9.8" fill="#000"/>
<circle cx="1240.88" cy="945.90" r="9.8" fill="#000"/>
<circle cx="1240.88" cy="959.50" r="9.8" fill="#000"/>
<circle cx="1240.88" cy="976.50" r="9.8" fill="#000"/>
<circle cx="1240.88" cy="983.30" r="9.8" fill="#000"/>
<circle cx="1240.88" cy="989.00" r="9.8" fill="#000"/>
<circle cx="1240.88" cy="995.80" r="9.8" fill="#000"/>
<circle cx="1240.88" cy="1009.40" r="9.8" fill="#000"/>
<circle cx="1240.88" cy="1016.20" r="9.8" fill="#000"/>
<circle cx="1240.88" cy="1023.00" r="9.8" fill="#000"/>
<circle cx="1240.88" cy="1036.70" r="9.8" fill="#000"/>
<circle cx="1240.88" cy="1049.10" r="9.8" fill="#000"/>
<circle cx="1240.88" cy="1078.00" r="9.8" fill="#000"/>
<circle cx="1240.88" cy="1093.00" r="9.8" fill="#000"/>
<circle cx="1240.88" cy="1100.60" r="9.8" fill="#000"/>
<circle cx="1240.88" cy="1136.40" r="9.8" fill="#000"/>
<circle cx="1240.88" cy="1256.60" r="9.8" fill="#000"/>
<circle cx="1636.19" cy="991.00" r="9.8" fill="#000"/>
<circle cx="1636.19" cy="1007.50" r="9.8" fill="#000"/>
<circle cx="1636.19" cy="1014.70" r="9.8" fill="#000"/>
<circle cx="1636.19" cy="1060.80" r="9.8" fill="#000"/>
<circle cx="1636.19" cy="1123.60" r="9.8" fill="#000"/>
<circle cx="1636.19" cy="1186.00" r="9.8" fill="#000"/>
<circle cx="1636.19" cy="1190.00" r="9.8" fill="#000"/>
<circle cx="1574.62" cy="951.80" r="9.8" fill="#000"/>
<circle cx="1574.62" cy="963.40" r="9.8" fill="#000"/>
<circle cx="1574.62" cy="972.10" r="9.8" fill="#000"/>
<circle cx="1574.62" cy="996.00" r="9.8" fill="#000"/>
<circle cx="1574.62" cy="1004.50" r="9.8" fill="#000"/>
<circle cx="1574.62" cy="1225.70" r="9.8" fill="#000"/>
<circle cx="1488.41" cy="863.00" r="9.8" fill="#000"/>
<circle cx="1488.41" cy="894.00" r="9.8" fill="#000"/>
<circle cx="1488.41" cy="900.50" r="9.8" fill="#000"/>
<circle cx="1488.41" cy="927.80" r="9.8" fill="#000"/>
<circle cx="1488.41" cy="956.70" r="9.8" fill="#000"/>
<circle cx="1488.41" cy="968.70" r="9.8" fill="#000"/>
<circle cx="1488.41" cy="1007.80" r="9.8" fill="#000"/>
<circle cx="1488.41" cy="1041.00" r="9.8" fill="#000"/>
<circle cx="1488.41" cy="1056.30" r="9.8" fill="#000"/>
<circle cx="1488.41" cy="1097.60" r="9.8" fill="#000"/>
<circle cx="1488.41" cy="1282.30" r="9.8" fill="#000"/>
<circle cx="1364.03" cy="865.60" r="9.8" fill="#000"/>
<circle cx="1364.03" cy="872.80" r="9.8" fill="#000"/>
<circle cx="1364.03" cy="900.00" r="9.8" fill="#000"/>
<circle cx="1364.03" cy="920.40" r="9.8" fill="#000"/>
<circle cx="1364.03" cy="942.60" r="9.8" fill="#000"/>
<circle cx="1364.03" cy="947.70" r="9.8" fill="#000"/>
<circle cx="1364.03" cy="973.20" r="9.8" fill="#000"/>
<circle cx="1364.03" cy="978.30" r="9.8" fill="#000"/>
<circle cx="1364.03" cy="1030.60" r="9.8" fill="#000"/>
<circle cx="1364.03" cy="1049.40" r="9.8" fill="#000"/>
<circle cx="1191.62" cy="859.40" r="9.8" fill="#000"/>
<circle cx="1191.62" cy="951.60" r="9.8" fill="#000"/>
<circle cx="1191.62" cy="955.00" r="9.8" fill="#000"/>
<circle cx="1191.62" cy="966.30" r="9.8" fill="#000"/>
<circle cx="1191.62" cy="971.40" r="9.8" fill="#000"/>
<circle cx="1191.62" cy="994.10" r="9.8" fill="#000"/>
<circle cx="1191.62" cy="1011.70" r="9.8" fill="#000"/>
<circle cx="1191.62" cy="1030.40" r="9.8" fill="#000"/>
<circle cx="1191.62" cy="1062.80" r="9.8" fill="#000"/>
<circle cx="1191.62" cy="1077.50" r="9.8" fill="#000"/>
<circle cx="1634.96" cy="864.50" r="9.8" fill="#000"/>
<circle cx="1634.96" cy="971.00" r="9.8" fill="#000"/>
<circle cx="1634.96" cy="982.30" r="9.8" fill="#000"/>
<circle cx="1634.96" cy="1001.10" r="9.8" fill="#000"/>
<circle cx="1634.96" cy="1024.90" r="9.8" fill="#000"/>
<circle cx="1634.96" cy="1032.00" r="9.8" fill="#000"/>
<circle cx="1634.96" cy="1047.90" r="9.8" fill="#000"/>
<circle cx="1634.96" cy="1058.00" r="9.8" fill="#000"/>
<circle cx="1634.96" cy="1107.40" r="9.8" fill="#000"/>
<circle cx="1634.96" cy="1120.00" r="9.8" fill="#000"/>
<circle cx="1634.96" cy="1126.00" r="9.8" fill="#000"/>
<circle cx="1733.48" cy="926.40" r="9.8" fill="#000"/>
<circle cx="1733.48" cy="977.40" r="9.8" fill="#000"/>
<circle cx="1733.48" cy="986.80" r="9.8" fill="#000"/>
<circle cx="1733.48" cy="994.50" r="9.8" fill="#000"/>
<circle cx="1733.48" cy="1026.00" r="9.8" fill="#000"/>
<circle cx="1733.48" cy="1035.30" r="9.8" fill="#000"/>
<circle cx="1733.48" cy="1057.40" r="9.8" fill="#000"/>
<circle cx="1733.48" cy="1065.10" r="9.8" fill="#000"/>
<circle cx="1733.48" cy="1084.70" r="9.8" fill="#000"/>
<circle cx="1733.48" cy="1094.90" r="9.8" fill="#000"/>
<circle cx="1733.48" cy="1104.30" r="9.8" fill="#000"/>
<circle cx="1733.48" cy="1117.90" r="9.8" fill="#000"/>
<circle cx="1671.90" cy="929.50" r="9.8" fill="#000"/>
<circle cx="1671.90" cy="946.70" r="9.8" fill="#000"/>
<circle cx="1671.90" cy="970.40" r="9.8" fill="#000"/>
<circle cx="1671.90" cy="1019.80" r="9.8" fill="#000"/>
<circle cx="1671.90" cy="1033.40" r="9.8" fill="#000"/>
<circle cx="1671.90" cy="1041.00" r="9.8" fill="#000"/>
<circle cx="1671.90" cy="1063.20" r="9.8" fill="#000"/>
<circle cx="1671.90" cy="1070.90" r="9.8" fill="#000"/>
<circle cx="1671.90" cy="1110.00" r="9.8" fill="#000"/>
<circle cx="1671.90" cy="1125.30" r="9.8" fill="#000"/>
<circle cx="1671.90" cy="1130.40" r="9.8" fill="#000"/>
<circle cx="1671.90" cy="1184.90" r="9.8" fill="#000"/>
<circle cx="1487.18" cy="926.50" r="9.8" fill="#000"/>
<circle cx="1487.18" cy="969.50" r="9.8" fill="#000"/>
<circle cx="1487.18" cy="987.00" r="9.8" fill="#000"/>
<circle cx="1487.18" cy="995.50" r="9.8" fill="#000"/>
<circle cx="1487.18" cy="1003.00" r="9.8" fill="#000"/>
<circle cx="1487.18" cy="1011.50" r="9.8" fill="#000"/>
<circle cx="1487.18" cy="1027.00" r="9.8" fill="#000"/>
<circle cx="1487.18" cy="1051.00" r="9.8" fill="#000"/>
<circle cx="1487.18" cy="1057.00" r="9.8" fill="#000"/>
<circle cx="1487.18" cy="1071.70" r="9.8" fill="#000"/>
<circle cx="1487.18" cy="1086.20" r="9.8" fill="#000"/>
<circle cx="1487.18" cy="1094.00" r="9.8" fill="#000"/>
<circle cx="1487.18" cy="1120.00" r="9.8" fill="#000"/>
<circle cx="1487.18" cy="1125.00" r="9.8" fill="#000"/>
<circle cx="1487.18" cy="1143.50" r="9.8" fill="#000"/>
<circle cx="1820.92" cy="929.80" r="9.8" fill="#000"/>
<circle cx="1820.92" cy="997.90" r="9.8" fill="#000"/>
<circle cx="1820.92" cy="1013.20" r="9.8" fill="#000"/>
<circle cx="1820.92" cy="1022.60" r="9.8" fill="#000"/>
<circle cx="1820.92" cy="1027.00" r="9.8" fill="#000"/>
<circle cx="1820.92" cy="1045.50" r="9.8" fill="#000"/>
<circle cx="1820.92" cy="1053.20" r="9.8" fill="#000"/>
<circle cx="1820.92" cy="1066.80" r="9.8" fill="#000"/>
<circle cx="1820.92" cy="1075.30" r="9.8" fill="#000"/>
<circle cx="1820.92" cy="1084.70" r="9.8" fill="#000"/>
<circle cx="1820.92" cy="1102.60" r="9.8" fill="#000"/>
<circle cx="1820.92" cy="1108.50" r="9.8" fill="#000"/>
<circle cx="1820.92" cy="1120.40" r="9.8" fill="#000"/>
<circle cx="1463.78" cy="1012.60" r="9.8" fill="#000"/>
<circle cx="1463.78" cy="1052.60" r="9.8" fill="#000"/>
<circle cx="1463.78" cy="1092.10" r="9.8" fill="#000"/>
<circle cx="1463.78" cy="1099.80" r="9.8" fill="#000"/>
<circle cx="1463.78" cy="1106.60" r="9.8" fill="#000"/>
<circle cx="1463.78" cy="1141.70" r="9.8" fill="#000"/>
<circle cx="1463.78" cy="1151.90" r="9.8" fill="#000"/>
<circle cx="1463.78" cy="1162.10" r="9.8" fill="#000"/>
<circle cx="1463.78" cy="1178.70" r="9.8" fill="#000"/>
<circle cx="1463.78" cy="1186.40" r="9.8" fill="#000"/>
<circle cx="1463.78" cy="1197.90" r="9.8" fill="#000"/>
<circle cx="1463.78" cy="1208.10" r="9.8" fill="#000"/>
<circle cx="1131.28" cy="1117.70" r="9.8" fill="#000"/>
<circle cx="1131.28" cy="1162.80" r="9.8" fill="#000"/>
<circle cx="1131.28" cy="1171.30" r="9.8" fill="#000"/>
<line x1="1106.00" y1="986.50" x2="1821.10" y2="1055.20" stroke="#3366FF" stroke-width="7.0" stroke-linecap="butt"/>
<line x1="1070.10" y1="719.60" x2="1070.10" y2="1309.50" stroke="#000" stroke-width="3.4" stroke-linecap="butt"/>
<line x1="1070.10" y1="1309.50" x2="1856.60" y2="1309.50" stroke="#000" stroke-width="3.4" stroke-linecap="butt"/>
<line x1="1061.40" y1="808.10" x2="1070.10" y2="808.10" stroke="#333333" stroke-width="3" stroke-linecap="butt"/>
<text transform="translate(1053.80 818.70) scale(1.0 1.065)" font-size="30" text-anchor="end" fill="#4D4D4D" font-weight="normal">−15</text>
<line x1="1061.40" y1="979.40" x2="1070.10" y2="979.40" stroke="#333333" stroke-width="3" stroke-linecap="butt"/>
<text transform="translate(1053.80 990.00) scale(1.0 1.065)" font-size="30" text-anchor="end" fill="#4D4D4D" font-weight="normal">−16</text>
<line x1="1061.40" y1="1150.70" x2="1070.10" y2="1150.70" stroke="#333333" stroke-width="3" stroke-linecap="butt"/>
<text transform="translate(1053.80 1161.30) scale(1.0 1.065)" font-size="30" text-anchor="end" fill="#4D4D4D" font-weight="normal">−17</text>
<line x1="1316.00" y1="1309.50" x2="1316.00" y2="1318.00" stroke="#333333" stroke-width="3" stroke-linecap="butt"/>
<text transform="translate(1316.00 1347.60) scale(1.0 1.065)" font-size="30" text-anchor="middle" fill="#4D4D4D" font-weight="normal">1.4</text>
<line x1="1562.00" y1="1309.50" x2="1562.00" y2="1318.00" stroke="#333333" stroke-width="3" stroke-linecap="butt"/>
<text transform="translate(1562.00 1347.60) scale(1.0 1.065)" font-size="30" text-anchor="middle" fill="#4D4D4D" font-weight="normal">1.6</text>
<line x1="1808.70" y1="1309.50" x2="1808.70" y2="1318.00" stroke="#333333" stroke-width="3" stroke-linecap="butt"/>
<text transform="translate(1808.70 1347.60) scale(1.0 1.065)" font-size="30" text-anchor="middle" fill="#4D4D4D" font-weight="normal">1.8</text>
<text transform="translate(1287.50 1396.50)" font-size="38.5" text-anchor="start" fill="#000" font-weight="normal" textLength="470.0" lengthAdjust="spacingAndGlyphs">Chl-<tspan font-style="italic">a</tspan> concentration (mg/m<tspan dy="-3.8">³</tspan><tspan dy="3.8">)</tspan></text>
<text transform="translate(980.00 1085.50) rotate(-90) scale(0.953 1.0)" font-size="38" text-anchor="start" fill="#000" font-weight="normal">δ<tspan font-size="26.5" dy="-18.7">13</tspan><tspan dy="18.7">C (‰)</tspan></text>
<text transform="translate(980.50 742.60) scale(0.933 1.0)" font-size="49" text-anchor="start" fill="#000" font-weight="bold">D</text>
<text transform="translate(1088.00 1294.20)" font-size="38" text-anchor="start" fill="#000" font-weight="normal" textLength="288.0" lengthAdjust="spacingAndGlyphs" stroke="#000" stroke-width="0.45">r²=0.05, p=0.0005</text>
</svg></body></html>
